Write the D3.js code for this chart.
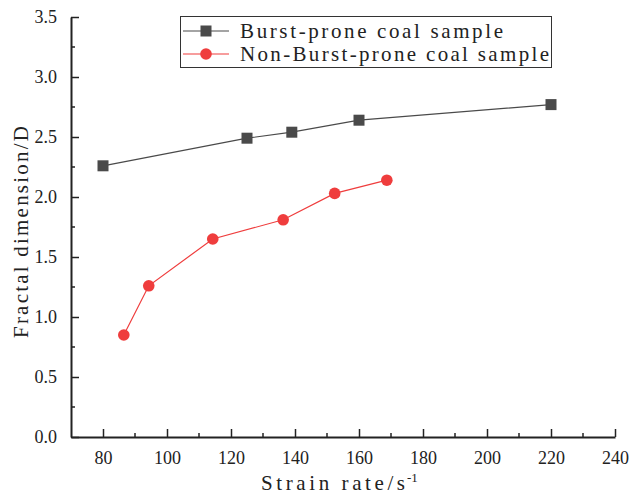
<!DOCTYPE html>
<html><head><meta charset="utf-8">
<script src="https://cdn.jsdelivr.net/npm/d3@7"></script>
<style>body{margin:0;background:#fff}svg{display:block}text{font-family:"Liberation Serif",serif;fill:#222}</style>
</head><body><div id="chart"></div>
<script>
const burstX = [80, 125, 139, 160, 220];
const burstY = [2.26, 2.49, 2.54, 2.64, 2.77];
const nonBurstX = [86.5, 94.3, 114.3, 136.3, 152.4, 168.7];
const nonBurstY = [0.85, 1.26, 1.65, 1.81, 2.03, 2.14];
const xTicks = [80, 100, 120, 140, 160, 180, 200, 220, 240];
const yTicks = [0.0, 0.5, 1.0, 1.5, 2.0, 2.5, 3.0, 3.5];
const seriesNames = ["Burst-prone coal sample", "Non-Burst-prone coal sample"];
const colors = ["#4a4a4a", "#ef3d3d"];

const W = 630, H = 495;
const m = {left: 71, right: 15, top: 17, bottom: 58};
const svg = d3.select("#chart").append("svg").attr("width", W).attr("height", H);
const x = d3.scaleLinear().domain([70, 240]).range([m.left, W - m.right]);
const y = d3.scaleLinear().domain([0, 3.5]).range([H - m.bottom, m.top]);

// minor ticks
const xMinor = d3.range(90, 240, 20);
const yMinor = d3.range(0.25, 3.5, 0.5);
const gx = svg.append("g").attr("transform", `translate(0,${y(0)})`);
gx.call(d3.axisBottom(x).tickValues(xTicks).tickSizeInner(-8).tickSizeOuter(0).tickPadding(14).tickFormat(d3.format("d")));
gx.selectAll(".tick text").attr("font-size", 18).attr("font-family", "Liberation Serif").attr("fill", "#222");
gx.append("g").selectAll("line").data(xMinor).join("line")
  .attr("x1", d => x(d)).attr("x2", d => x(d)).attr("y1", 0).attr("y2", -4).attr("stroke", "#222").attr("stroke-width", 1.5);
gx.select(".domain").attr("stroke-width", 2).attr("stroke", "#222");
gx.selectAll(".tick line").attr("stroke-width", 1.5).attr("stroke", "#222");

const gy = svg.append("g").attr("transform", `translate(${x(70)},0)`);
gy.call(d3.axisLeft(y).tickValues(yTicks).tickSizeInner(-8).tickSizeOuter(0).tickPadding(14).tickFormat(d3.format(".1f")));
gy.selectAll(".tick text").attr("font-size", 18).attr("font-family", "Liberation Serif").attr("fill", "#222");
gy.append("g").selectAll("line").data(yMinor).join("line")
  .attr("y1", d => y(d)).attr("y2", d => y(d)).attr("x1", 0).attr("x2", 4).attr("stroke", "#222").attr("stroke-width", 1.5);
gy.select(".domain").attr("stroke-width", 2).attr("stroke", "#222");
gy.selectAll(".tick line").attr("stroke-width", 1.5).attr("stroke", "#222");

// axis titles
svg.append("text").attr("x", 261).attr("y", 490).attr("font-size", 21)
  .attr("textLength", 144).attr("lengthAdjust", "spacing").text("Strain rate/s");
svg.append("text").attr("x", 407).attr("y", 482).attr("font-size", 13).text("-1");
svg.append("text").attr("transform", "translate(28,338) rotate(-90)").attr("font-size", 21)
  .attr("textLength", 212).attr("lengthAdjust", "spacing").text("Fractal dimension/D");

// series
const line = d3.line().x(d => x(d[0])).y(d => y(d[1]));
const burst = burstX.map((v, i) => [v, burstY[i]]);
const nonBurst = nonBurstX.map((v, i) => [v, nonBurstY[i]]);
svg.append("path").datum(burst).attr("d", line).attr("fill", "none").attr("stroke", colors[0]).attr("stroke-width", 1.2);
svg.append("path").datum(nonBurst).attr("d", line).attr("fill", "none").attr("stroke", colors[1]).attr("stroke-width", 1.2);
svg.selectAll(".sq").data(burst).join("rect").attr("class", "sq")
  .attr("x", d => x(d[0]) - 5.5).attr("y", d => y(d[1]) - 5.5).attr("width", 11).attr("height", 11).attr("fill", colors[0]);
svg.selectAll(".ci").data(nonBurst).join("circle").attr("class", "ci")
  .attr("cx", d => x(d[0])).attr("cy", d => y(d[1])).attr("r", 5.8).attr("fill", colors[1]);

// legend
const lg = svg.append("g");
lg.append("rect").attr("x", 180.5).attr("y", 16.5).attr("width", 371).attr("height", 51).attr("fill", "#fff").attr("stroke", "#333").attr("stroke-width", 1);
const rowsY = [31, 54];
const lens = [263, 309];
seriesNames.forEach((name, i) => {
  lg.append("line").attr("x1", 183).attr("x2", 229).attr("y1", rowsY[i]).attr("y2", rowsY[i]).attr("stroke", colors[i]).attr("stroke-width", 1.2);
  if (i === 0) lg.append("rect").attr("x", 200.5).attr("y", rowsY[i] - 5.5).attr("width", 11).attr("height", 11).attr("fill", colors[i]);
  else lg.append("circle").attr("cx", 206).attr("cy", rowsY[i]).attr("r", 5.8).attr("fill", colors[i]);
  lg.append("text").attr("x", 240).attr("y", rowsY[i] + 7).attr("font-size", 21).attr("textLength", lens[i]).attr("lengthAdjust", "spacing").text(name);
});
</script></body></html>
